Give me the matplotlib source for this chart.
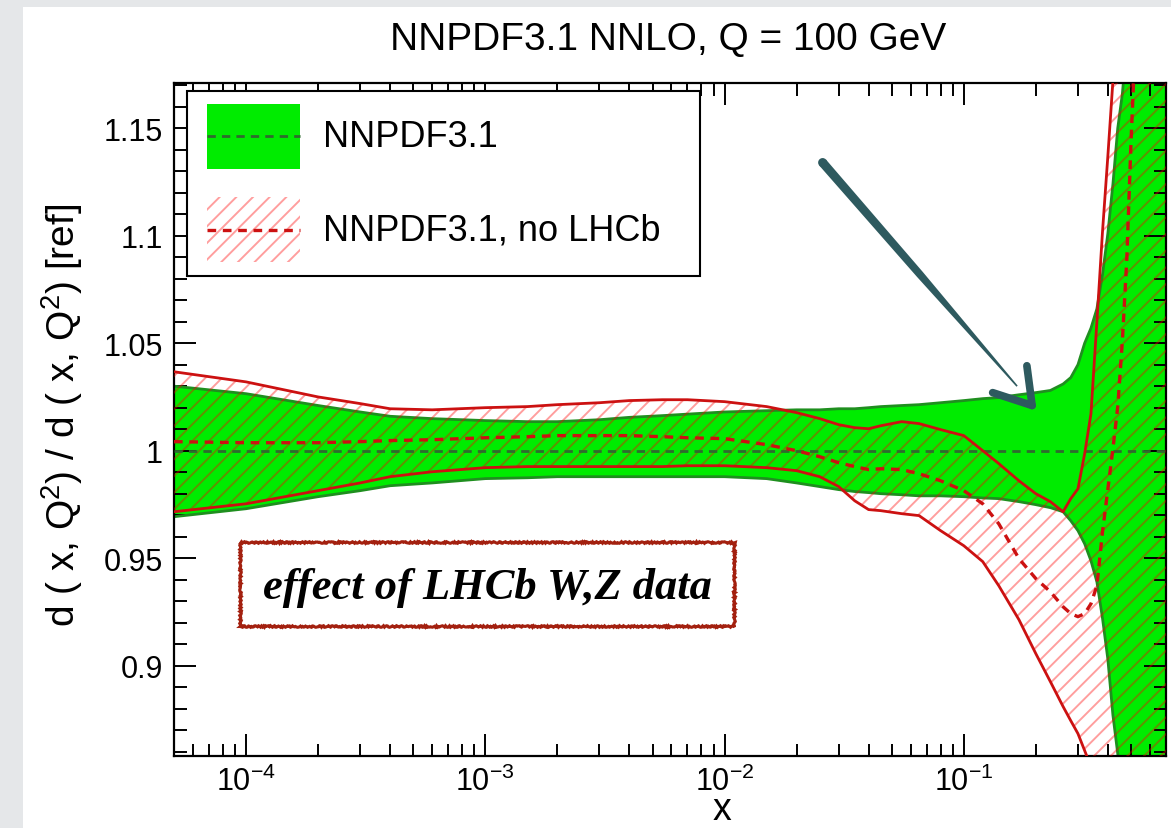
import numpy as np
import matplotlib
matplotlib.use("Agg")
import matplotlib.pyplot as plt
from matplotlib.patches import Rectangle, Polygon, Circle
from matplotlib.lines import Line2D
from matplotlib.ticker import LogLocator, MultipleLocator, FuncFormatter, NullFormatter
from matplotlib.transforms import IdentityTransform

plt.rcParams['font.family'] = ['Liberation Sans', 'DejaVu Sans']
plt.rcParams['mathtext.fontset'] = 'custom'
plt.rcParams['mathtext.rm'] = 'Liberation Sans'
plt.rcParams['mathtext.it'] = 'Liberation Sans:italic'
plt.rcParams['mathtext.bf'] = 'Liberation Sans:bold'
plt.rcParams['hatch.linewidth'] = 1.4

# d-quark PDF ratio to NNPDF3.1 central value, Q = 100 GeV
x = [5e-5, 1e-4, 2e-4, 3e-4, 4e-4, 6e-4, 1e-3, 1.5e-3, 2e-3, 3e-3,
     4e-3, 5.5e-3, 7e-3, 1e-2, 1.5e-2, 2e-2, 2.5e-2, 3e-2, 3.5e-2, 4e-2,
     4.5e-2, 5.5e-2, 6.5e-2, 8e-2, 0.1, 0.12, 0.14, 0.17, 0.2, 0.23,
     0.26, 0.28, 0.3, 0.32, 0.34, 0.36, 0.38, 0.40, 0.42, 0.44,
     0.46, 0.48, 0.5, 0.55, 0.7]

nnpdf_up = [1.030, 1.0265, 1.021, 1.018, 1.016, 1.0149, 1.014, 1.0135, 1.0135, 1.0144,
            1.0155, 1.0163, 1.017, 1.018, 1.0186, 1.019, 1.019, 1.0195, 1.0195, 1.020,
            1.0205, 1.021, 1.0214, 1.0223, 1.0233, 1.0242, 1.0247, 1.026, 1.027, 1.028,
            1.031, 1.034, 1.040, 1.050, 1.057, 1.066, 1.082, 1.101, 1.124, 1.150,
            1.166, 1.19, 1.22, 1.30, 1.60]
nnpdf_lo = [0.9693, 0.973, 0.9786, 0.9814, 0.9837, 0.985, 0.987, 0.9874, 0.9879, 0.9879,
            0.9879, 0.9879, 0.9879, 0.9879, 0.987, 0.985, 0.9833, 0.9819, 0.981, 0.9805,
            0.980, 0.9795, 0.979, 0.979, 0.9786, 0.978, 0.9777, 0.9763, 0.9749, 0.9735,
            0.9716, 0.9674, 0.9628, 0.9567, 0.9488, 0.939, 0.922, 0.903, 0.877, 0.859,
            0.843, 0.82, 0.80, 0.75, 0.60]
ref_ratio = 1.0

nolhcb_up = [1.0367, 1.032, 1.025, 1.0219, 1.0195, 1.019, 1.020, 1.0205, 1.0214, 1.0223,
             1.0233, 1.0237, 1.0237, 1.0228, 1.0205, 1.0177, 1.0149, 1.0121, 1.0107, 1.0102,
             1.0116, 1.0135, 1.0126, 1.0098, 1.007, 1.000, 0.994, 0.986, 0.980, 0.9763,
             0.9716, 0.9777, 0.9823, 0.9986, 1.0172, 1.060, 1.102, 1.137, 1.172, 1.21,
             1.24, 1.28, 1.31, 1.40, 1.70]
nolhcb_lo = [0.9716, 0.9753, 0.9814, 0.985, 0.9879, 0.9902, 0.9921, 0.9926, 0.9926, 0.9926,
             0.9926, 0.9926, 0.993, 0.993, 0.9921, 0.9907, 0.9879, 0.9833, 0.9767, 0.9726,
             0.9721, 0.9707, 0.9698, 0.9628, 0.9558, 0.9484, 0.9372, 0.9214, 0.9056, 0.8926,
             0.881, 0.8744, 0.8684, 0.8605, 0.853, 0.845, 0.835, 0.82, 0.81, 0.80,
             0.79, 0.77, 0.75, 0.72, 0.60]
nolhcb_cv = [1.0042, 1.0037, 1.0037, 1.0042, 1.0047, 1.0051, 1.006, 1.0065, 1.007, 1.007,
             1.007, 1.0065, 1.006, 1.0056, 1.0028, 1.0, 0.9972, 0.9944, 0.9926, 0.9912,
             0.9916, 0.9912, 0.9893, 0.986, 0.9814, 0.9753, 0.966, 0.9498, 0.9405, 0.9344,
             0.9274, 0.9242, 0.9228, 0.9242, 0.9288, 0.9372, 0.9623, 0.982, 1.0009, 1.0205,
             1.051, 1.089, 1.144, 1.25, 1.5]

yticks = [0.9, 0.95, 1.0, 1.05, 1.1, 1.15]

GREEN = '#00ec00'
GREEN_EDGE = '#1f8f1f'
RED = '#cc1111'
HATCH_RED = (1.0, 0.0, 0.0, 0.38)
ARROW = '#2e5a5f'

fig = plt.figure(figsize=(11.71, 8.29), dpi=100, facecolor='#e5e7e9')
fig.patches.append(Rectangle((23 / 1171, 0), 1, 1 - 8 / 829, transform=fig.transFigure,
                             facecolor='white', edgecolor='none', zorder=-10))

ax = fig.add_axes([174 / 1171, 1 - 757 / 829, 992 / 1171, 673 / 829])
ax.set_xscale('log')
ax.set_xlim(5e-5, 0.7)
ax.set_ylim(0.858, 1.171)

# NNPDF3.1 band
ax.fill_between(x, nnpdf_lo, nnpdf_up, facecolor=GREEN, edgecolor='none', zorder=1)
ax.plot(x, nnpdf_up, color=GREEN_EDGE, lw=2.0, zorder=2)
ax.plot(x, nnpdf_lo, color=GREEN_EDGE, lw=2.0, zorder=2)
ax.axhline(ref_ratio, color='#2f6a2f', lw=2.0, dashes=(3, 2.2), zorder=4)

# no-LHCb band, hatched
ax.fill_between(x, nolhcb_lo, nolhcb_up, facecolor='none', edgecolor=HATCH_RED,
                hatch='//', linewidth=0, zorder=3)
ax.plot(x, nolhcb_up, color=RED, lw=2.0, zorder=5)
ax.plot(x, nolhcb_lo, color=RED, lw=2.0, zorder=5)
ax.plot(x, nolhcb_cv, color=RED, lw=2.4, dashes=(2.6, 2), zorder=5)

# ROOT-like axes
for s in ax.spines.values():
    s.set_linewidth(1.6)
ax.xaxis.set_major_locator(LogLocator(base=10, numticks=12))
ax.xaxis.set_minor_locator(LogLocator(base=10, subs=np.arange(2, 10), numticks=12))
ax.xaxis.set_minor_formatter(NullFormatter())
ax.yaxis.set_major_locator(plt.FixedLocator(yticks))
ax.yaxis.set_minor_locator(MultipleLocator(0.01))
ax.yaxis.set_major_formatter(FuncFormatter(lambda v, p: f'{v:g}'))
ax.tick_params(which='both', direction='in', top=True, right=True, width=1.4)
ax.tick_params(which='major', length=16)
ax.tick_params(which='minor', length=9)
ax.tick_params(axis='y', labelsize=22, pad=8)
ax.tick_params(axis='x', labelsize=22, pad=7)

fig.text(668 / 1171, 1 - 50 / 829, 'NNPDF3.1 NNLO, Q = 100 GeV', ha='center',
         va='baseline', fontsize=28)
fig.text(722 / 1171, 1 - 820 / 829, 'x', ha='center', va='baseline', fontsize=27)
fig.text(62 / 1171, 1 - 415 / 829, r'd ( x, Q$^{2}$) / d ( x, Q$^{2}$) [ref]',
         rotation=90, ha='center', va='center', fontsize=28)

# legend box
ta = ax.transAxes
ax.add_patch(Rectangle((0.0131, 0.7132), 0.517, 0.2749, transform=ta, facecolor='white',
                       edgecolor='black', lw=1.5, zorder=8))
ax.add_patch(Rectangle((0.0333, 0.8722), 0.0937, 0.0966, transform=ta, facecolor=GREEN,
                       edgecolor='none', zorder=9))
ax.add_line(Line2D([0.0333, 0.127], [0.9212, 0.9212], transform=ta, color='#2f6a2f',
                   lw=2.0, dashes=(3, 2.2), zorder=10))
ax.add_patch(Rectangle((0.0333, 0.7340), 0.0937, 0.0966, transform=ta, facecolor='none',
                       edgecolor=HATCH_RED, hatch='//', lw=0, zorder=9))
ax.add_line(Line2D([0.0333, 0.127], [0.7816, 0.7816], transform=ta, color=RED,
                   lw=2.4, dashes=(2.6, 2), zorder=10))
ax.text(0.150, 0.9212, 'NNPDF3.1', transform=ta, fontsize=26, va='center', zorder=10)
ax.text(0.150, 0.7816, 'NNPDF3.1, no LHCb', transform=ta, fontsize=26, va='center', zorder=10)

# annotation box
box = Rectangle((0.0665, 0.1932), 0.498, 0.1248, transform=ta, facecolor='white',
                edgecolor='#a3200f', lw=2.2, zorder=8)
box.set_sketch_params(scale=0.8, length=4, randomness=3)
ax.add_patch(box)
ax.text(0.3155, 0.2511, 'effect of LHCb W,Z data', transform=ta, ha='center', va='center',
        fontsize=32, family='Liberation Serif', style='italic', weight='bold', zorder=9)

# hand-drawn arrow
arrow_tail = (0.0257, 1.134)
arrow_end = (0.167, 1.030)
arrow_tip = (0.193, 1.021)
arrow_wings = [(0.132, 1.027), (0.1835, 1.0395)]

p0 = ax.transData.transform(arrow_tail)
p1 = ax.transData.transform(arrow_end)
d = p1 - p0
n = np.array([-d[1], d[0]]) / np.hypot(*d)
shaft = [p0 + n * 4.5, p0 + d * 0.5 + n * 3.8, p1 + n * 0.8, p1 - n * 0.8,
         p0 + d * 0.5 - n * 3.8, p0 - n * 4.5]
fig.add_artist(Polygon(shaft, closed=True, transform=IdentityTransform(),
                       facecolor=ARROW, edgecolor='none', zorder=20))
fig.add_artist(Circle(p0, 4.5, transform=IdentityTransform(), facecolor=ARROW,
                      edgecolor='none', zorder=20))
for w in arrow_wings:
    ax.plot([w[0], arrow_tip[0]], [w[1], arrow_tip[1]], color=ARROW, lw=5.5,
            solid_capstyle='round', zorder=20, clip_on=False)

fig.savefig('out.png', dpi=100, facecolor=fig.get_facecolor())
